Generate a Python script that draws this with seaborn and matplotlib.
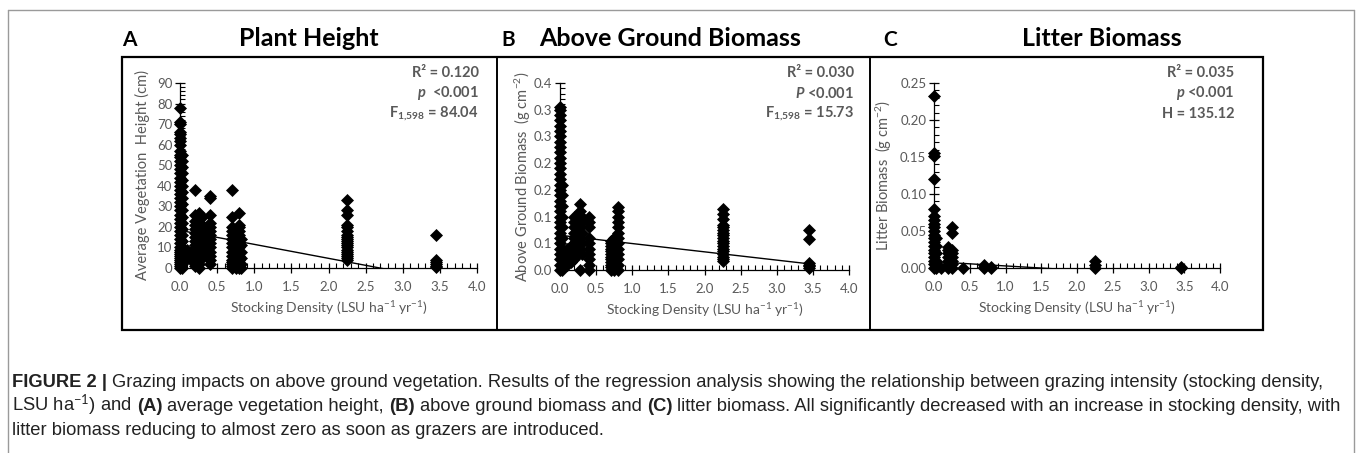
import math
import numpy as np
import pandas as pd
import seaborn as sns
import matplotlib.pyplot as plt
from matplotlib.lines import Line2D
from matplotlib.patches import Rectangle
from matplotlib.ticker import MultipleLocator, FuncFormatter

# Data: stocking density levels and the values seen at each level
height_density = [0.0, 0.03, 0.1, 0.15, 0.2, 0.25, 0.3, 0.4, 0.7, 0.75, 0.8, 0.82, 2.25, 3.45]
height_values = [
    [0, 1, 2, 3, 4, 5, 6, 7, 8, 9, 10, 12, 14, 16, 18, 20, 22, 24, 26, 28, 30, 32, 34, 36, 38,
     40, 42, 44, 46, 48, 50, 52, 54, 55, 57, 60, 62, 63, 65, 66, 70, 71, 78],
    [0, 2, 4, 6, 8, 10, 13, 16, 19, 22, 25, 28, 31, 34, 37, 40, 43, 46, 49, 52, 55],
    [5, 6, 7, 8, 9],
    [4, 6, 7, 8],
    [1, 3, 5, 7, 9, 11, 13, 15, 17, 19, 21, 23, 26, 38],
    [0, 2, 4, 6, 8, 10, 12, 14, 16, 18, 20, 22, 24, 27],
    [5, 7, 9, 11, 13, 15, 17, 19, 21, 25],
    [2, 4, 6, 8, 10, 12, 14, 16, 18, 20, 22, 26, 34, 35],
    [0, 1, 2, 3, 4, 6, 8, 10, 12, 14, 16, 18, 20, 25, 38],
    [0, 2, 4, 6, 8, 10, 12, 14, 17, 19],
    [0, 1, 2, 4, 6, 8, 10, 12, 14, 16, 18, 20, 21, 27],
    [0, 2, 5, 8, 11, 14],
    [4, 5, 6, 7, 8, 9, 10, 11, 12, 13, 14, 15, 16, 18, 20, 21, 26, 28, 33],
    [0.5, 1, 2, 3, 4, 16],
]

agb_density = [0.0, 0.03, 0.1, 0.15, 0.2, 0.25, 0.28, 0.3, 0.4, 0.7, 0.75, 0.8, 2.25, 3.45]
agb_values = [
    [0, 0.01, 0.02, 0.03, 0.04, 0.05, 0.06, 0.07, 0.08, 0.09, 0.1, 0.11, 0.12, 0.13, 0.14,
     0.15, 0.16, 0.17, 0.18, 0.19, 0.2, 0.21, 0.22, 0.23, 0.24, 0.25, 0.26, 0.27, 0.28,
     0.29, 0.3, 0.305],
    [0, 0.02, 0.04, 0.06, 0.08, 0.1, 0.12, 0.14, 0.16],
    [0.01, 0.02, 0.03, 0.04],
    [0.015, 0.025, 0.035, 0.045],
    [0.02, 0.03, 0.04, 0.05, 0.06, 0.07, 0.08, 0.09, 0.1],
    [0.03, 0.04, 0.05, 0.06, 0.07, 0.08, 0.09, 0.1, 0.105],
    [0, 0.04, 0.06, 0.08, 0.1, 0.11, 0.124],
    [0.03, 0.05, 0.07, 0.09, 0.1],
    [0, 0.01, 0.02, 0.03, 0.04, 0.05, 0.06, 0.08, 0.09, 0.1],
    [0, 0.005, 0.01, 0.015, 0.02, 0.025, 0.03, 0.035, 0.04, 0.045, 0.05, 0.055],
    [0, 0.01, 0.02, 0.03, 0.04, 0.05, 0.06],
    [0, 0.01, 0.02, 0.03, 0.04, 0.05, 0.06, 0.07, 0.08, 0.09, 0.1, 0.11, 0.118],
    [0.016, 0.02, 0.025, 0.03, 0.035, 0.04, 0.045, 0.05, 0.055, 0.06, 0.065, 0.07, 0.075,
     0.08, 0.085, 0.095, 0.105, 0.114],
    [0.004, 0.007, 0.01, 0.013, 0.058, 0.074],
]

litter_density = [0.0, 0.03, 0.1, 0.2, 0.25, 0.4, 0.7, 0.8, 2.25, 3.45]
litter_values = [
    [0, 0.005, 0.01, 0.015, 0.02, 0.025, 0.03, 0.035, 0.04, 0.045, 0.05, 0.055, 0.06, 0.065,
     0.07, 0.08, 0.12, 0.152, 0.156, 0.232],
    [0, 0.005, 0.01, 0.02, 0.03, 0.04],
    [0],
    [0, 0.005, 0.01, 0.015, 0.02, 0.025, 0.029],
    [0, 0.005, 0.01, 0.015, 0.02, 0.025, 0.047, 0.055],
    [0],
    [0, 0.002, 0.004],
    [0, 0.001],
    [0, 0.004, 0.009],
    [0, 0.001],
]

# fitted trendlines (intercept, slope) and the stats printed on each panel
height_fit = (18.3, -6.8)
agb_fit = (0.065, -0.0155)
litter_fit = (0.0085, -0.0057)
max_density = 3.45

panel_letters = ["A", "B", "C"]
panel_titles = ["Plant Height", "Above Ground Biomass", "Litter Biomass"]
y_labels = ["Average Vegetation  Height (cm)",
            r"Above Ground Biomass  (g cm$^{-2}$)",
            r"Litter Biomass  (g cm$^{-2}$)"]
stats_lines = [
    ["R² = 0.120", r"$\mathbfit{p}$  <0.001", r"F$_{\mathbf{1{,}598}}$ = 84.04"],
    ["R² = 0.030", r"$\mathbfit{P}$ <0.001", r"F$_{\mathbf{1{,}598}}$ = 15.73"],
    ["R² = 0.035", r"$\mathbfit{p}$ <0.001", "H = 135.12"],
]

caption_lines = [
    [("FIGURE 2 |", "bold"),
     (" Grazing impacts on above ground vegetation. Results of the regression analysis showing the "
      "relationship between grazing intensity (stocking density,", "normal")],
    [(r"LSU ha$^{-1}$) and ", "normal"), ("(A)", "bold"), (" average vegetation height, ", "normal"),
     ("(B)", "bold"), (" above ground biomass and ", "normal"), ("(C)", "bold"),
     (" litter biomass. All significantly decreased with an increase in stocking density, with", "normal")],
    [("litter biomass reducing to almost zero as soon as grazers are introduced.", "normal")],
]


def to_frame(levels, values):
    rows = []
    for d, vals in zip(levels, values):
        for v in vals:
            rows.append((d, v))
    return pd.DataFrame(rows, columns=["density", "value"])


sns.set_style("ticks")
plt.rcParams["font.family"] = ["Lato", "DejaVu Sans"]
plt.rcParams["mathtext.fontset"] = "custom"
plt.rcParams["mathtext.rm"] = "Lato"
plt.rcParams["mathtext.it"] = "Lato:italic"
plt.rcParams["mathtext.bf"] = "Lato:bold"
plt.rcParams["mathtext.bfit"] = "Lato:italic:bold"

W, H = 1358, 453
fig = plt.figure(figsize=(W / 100, H / 100), dpi=100)


def fx(px):
    return px / W


def fy(py):
    return 1 - py / H


# axes boxes in pixels: left, right, top, bottom
boxes = [(180, 477, 83, 268), (560, 849, 83, 270), (934, 1220, 83, 268)]
frames = [to_frame(height_density, height_values),
          to_frame(agb_density, agb_values),
          to_frame(litter_density, litter_values)]
fits = [height_fit, agb_fit, litter_fit]
y_limits = [(0, 90), (0, 0.35), (0, 0.25)]
y_major = [10, 0.05, 0.05]
y_minor = [2, 0.01, 0.01]
y_fmt = [lambda v, p: f"{v:.0f}",
         lambda v, p: f"{math.floor(v * 10 + 0.5 + 1e-9) / 10:.1f}",
         lambda v, p: f"{v:.2f}"]
ylabel_px = [142, 523, 884]
stats_right = [479, 854, 1234]
grey = "#595959"

for i in range(3):
    l, r, t, b = boxes[i]
    ax = fig.add_axes([fx(l), fy(b), fx(r - l), (b - t) / H])
    sns.scatterplot(data=frames[i], x="density", y="value", marker="D", s=44,
                    color="black", edgecolor="black", linewidth=0, ax=ax,
                    clip_on=False, zorder=3)
    a, m = fits[i]
    line_x = np.array([0.0, max_density])
    sns.lineplot(x=line_x, y=a + m * line_x, color="black", linewidth=1.0, ax=ax)

    ax.set_xlim(0, 4)
    ax.set_ylim(*y_limits[i])
    ax.xaxis.set_major_locator(MultipleLocator(0.5))
    ax.xaxis.set_minor_locator(MultipleLocator(0.1))
    ax.xaxis.set_major_formatter(FuncFormatter(lambda v, p: f"{v:.1f}"))
    ax.yaxis.set_major_locator(MultipleLocator(y_major[i]))
    ax.yaxis.set_minor_locator(MultipleLocator(y_minor[i]))
    ax.yaxis.set_major_formatter(FuncFormatter(y_fmt[i]))
    ax.tick_params(which="major", direction="inout", length=7, width=0.9,
                   colors="black", labelcolor=grey, labelsize=9.5)
    ax.tick_params(axis="x", which="major", pad=6)
    ax.tick_params(axis="y", which="major", pad=2)
    ax.tick_params(which="minor", direction="in", length=3.5, width=0.8, colors="black")
    for s in ["top", "right"]:
        ax.spines[s].set_visible(False)
    for s in ["left", "bottom"]:
        ax.spines[s].set_linewidth(0.9)
        ax.spines[s].set_color("black")
    ax.patch.set_alpha(0)

    ax.set_xlabel(r"Stocking Density (LSU ha$^{-1}$ yr$^{-1}$)", fontsize=10, color=grey, labelpad=4)
    ax.set_ylabel(y_labels[i], fontsize=10.5, color=grey, va="center")
    ax.yaxis.set_label_coords((ylabel_px[i] - l) / (r - l), 0.5)

    for k, line in enumerate(stats_lines[i]):
        fig.text(fx(stats_right[i]), fy(73 + 20.5 * k), line, ha="right", va="center",
                 fontsize=10.5, fontweight="bold", color=grey)

# panel letters and titles
letter_px = [129, 508, 890]
title_px = [309, 670, 1102]
for i in range(3):
    fig.text(fx(letter_px[i]), fy(40), panel_letters[i], ha="center", va="center",
             fontsize=15, fontweight="bold", color="black")
    fig.text(fx(title_px[i]), fy(39), panel_titles[i], ha="center", va="center",
             fontsize=18, fontweight="bold", color="black")

# panel box, dividers and the outer grey frame
fig.add_artist(Rectangle((fx(122), fy(330)), fx(1263 - 122), (330 - 57) / H,
                         fill=False, edgecolor="black", linewidth=1.6, transform=fig.transFigure))
for xd in [497, 870]:
    fig.add_artist(Line2D([fx(xd), fx(xd)], [fy(57), fy(330)], color="black",
                          linewidth=1.4, transform=fig.transFigure))
frame_kw = dict(color="#9a9a9a", linewidth=1.0, transform=fig.transFigure)
fig.add_artist(Line2D([fx(8), fx(8)], [fy(10), 0], **frame_kw))
fig.add_artist(Line2D([fx(8), fx(1354)], [fy(10), fy(10)], **frame_kw))
fig.add_artist(Line2D([fx(1354), fx(1354)], [fy(10), 0], **frame_kw))

# caption, written piece by piece so bold and normal runs sit side by side
cap_font = ["Liberation Sans", "DejaVu Sans"]
cap_size = 13.2
renderer = fig.canvas.get_renderer()


def space_width(weight):
    a = fig.text(0, 0, "x x", fontsize=cap_size, family=cap_font, fontweight=weight)
    b = fig.text(0, 0, "xx", fontsize=cap_size, family=cap_font, fontweight=weight)
    w = a.get_window_extent(renderer).width - b.get_window_extent(renderer).width
    a.remove()
    b.remove()
    return w


sp = {"normal": space_width("normal"), "bold": space_width("bold")}
baselines = [387, 411, 435]
for line, base in zip(caption_lines, baselines):
    x = 12.0
    for text, weight in line:
        lead = len(text) - len(text.lstrip(" "))
        trail = len(text) - len(text.rstrip(" "))
        x += lead * sp[weight]
        t = fig.text(fx(x), fy(base), text.strip(" "), fontsize=cap_size, family=cap_font,
                     fontweight=weight, color="#222222", va="baseline", ha="left")
        x += t.get_window_extent(renderer).width + trail * sp[weight]

fig.savefig("out.png", dpi=100)
